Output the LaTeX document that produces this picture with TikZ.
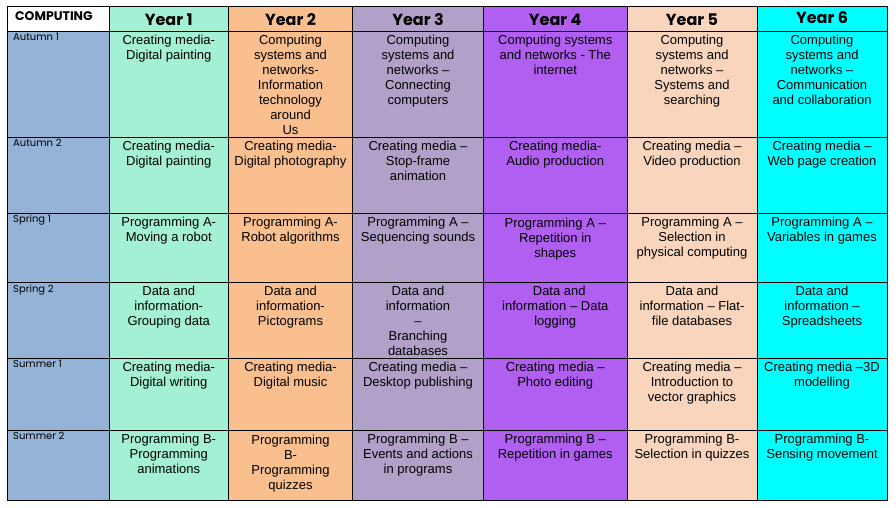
\documentclass[tikz,border=0pt]{standalone}
\usepackage{fontspec}
\setmainfont{Liberation Sans}
\newfontfamily\gothic{Poppins}
\definecolor{cblue}{HTML}{95B3D7}
\definecolor{cyone}{HTML}{A4F0D4}
\definecolor{cytwo}{HTML}{F9BF8F}
\definecolor{cythree}{HTML}{B1A0C7}
\definecolor{cyfour}{HTML}{B05FF0}
\definecolor{cyfive}{HTML}{F8D5BC}
\definecolor{cysix}{HTML}{00FFFF}
\tikzset{
  celltext/.style={anchor=north, align=center, inner sep=0pt, font=\fontsize{13}{15}\selectfont},
  yearhead/.style={anchor=center, inner sep=0pt, font=\gothic\bfseries\fontsize{16}{18}\selectfont},
  termlabel/.style={anchor=north west, inner sep=0pt, font=\gothic\fontsize{10}{12}\selectfont},
  gridline/.style={draw=black, line width=1pt}
}
\begin{document}
\begin{tikzpicture}[x=1pt,y=-1pt]
\useasboundingbox (0,0) rectangle (896,508);
% fills
\fill[white] (7,7) rectangle (109,31.7);
\fill[cblue] (7,31.7) rectangle (109,500);
\fill[cyone] (109,7) rectangle (228.5,500);
\fill[cytwo] (228.5,7) rectangle (352.5,500);
\fill[cythree] (352.5,7) rectangle (483.5,500);
\fill[cyfour] (483.5,7) rectangle (627,500);
\fill[cyfive] (627,7) rectangle (757,500);
\fill[cysix] (757,7) rectangle (887,500);
% grid
\foreach \x in {109,228.5,352.5,483.5,627,757} \draw[gridline] (\x,7) -- (\x,500);
\foreach \y in {31.7,137.3,213.3,282.7,358.3,430} \draw[gridline] (7,\y) -- (887,\y);
\draw[gridline] (7,7) rectangle (887,500);
% headers
\node[anchor=west, inner sep=0pt, font=\gothic\bfseries\fontsize{12.5}{14}\selectfont] (hcomp) at (15,16.5) {COMPUTING};
\node[yearhead] (hy1) at (168.75,19.5) {Year 1};
\node[yearhead] (hy2) at (290.5,19.5) {Year 2};
\node[yearhead] (hy3) at (418,19.5) {Year 3};
\node[yearhead] (hy4) at (555.25,19.5) {Year 4};
\node[yearhead] (hy5) at (692,19.5) {Year 5};
\node[yearhead] (hy6) at (822,17.5) {Year 6};
% term labels
\node[termlabel] (ta1) at (13,33.5) {Autumn 1};
\node[termlabel] (ta2) at (13,139) {Autumn 2};
\node[termlabel] (ts1) at (13,215) {Spring 1};
\node[termlabel] (ts2) at (13,284.5) {Spring 2};
\node[termlabel] (tu1) at (13,360) {Summer 1};
\node[termlabel] (tu2) at (13,432) {Summer 2};
% Autumn 1
\node[celltext] (a1y1) at (168.75,35.2) {Creating media-\\Digital painting};
\node[celltext] (a1y2) at (290.5,35.2) {Computing\\systems and\\networks-\\Information\\technology\\around\\Us};
\node[celltext] (a1y3) at (418,35.2) {Computing\\systems and\\networks –\\Connecting\\computers};
\node[celltext] (a1y4) at (555.25,35.2) {Computing systems\\and networks - The\\internet};
\node[celltext] (a1y5) at (692,35.2) {Computing\\systems and\\networks –\\Systems and\\searching};
\node[celltext] (a1y6) at (822,35.2) {Computing\\systems and\\networks –\\Communication\\and collaboration};
% Autumn 2
\node[celltext] (a2y1) at (168.75,140.8) {Creating media-\\Digital painting};
\node[celltext] (a2y2) at (290.5,140.8) {Creating media-\\Digital photography};
\node[celltext] (a2y3) at (418,140.8) {Creating media –\\Stop-frame\\animation};
\node[celltext] (a2y4) at (555.25,140.8) {Creating media-\\Audio production};
\node[celltext] (a2y5) at (692,140.8) {Creating media –\\Video production};
\node[celltext] (a2y6) at (822,140.8) {Creating media –\\Web page creation};
% Spring 1
\node[celltext] (s1y1) at (168.75,216.8) {Programming A-\\Moving a robot};
\node[celltext] (s1y2) at (290.5,216.8) {Programming A-\\Robot algorithms};
\node[celltext] (s1y3) at (418,216.8) {Programming A –\\Sequencing sounds};
\node[celltext] (s1y4) at (555.25,218.3) {Programming A –\\Repetition in\\shapes};
\node[celltext] (s1y5) at (692,216.8) {Programming A –\\Selection in\\physical computing};
\node[celltext] (s1y6) at (822,216.8) {Programming A –\\Variables in games};
% Spring 2
\node[celltext] (s2y1) at (168.75,286.2) {Data and\\information-\\Grouping data};
\node[celltext] (s2y2) at (290.5,286.2) {Data and\\information-\\Pictograms};
\node[celltext] (s2y3) at (418,286.2) {Data and\\information\\–\\Branching\\databases};
\node[celltext] (s2y4) at (555.25,286.2) {\hspace*{8pt}Data and\\information – Data\\logging};
\node[celltext] (s2y5) at (692,286.2) {Data and\\information – Flat-\\file databases};
\node[celltext] (s2y6) at (822,286.2) {Data and\\information –\\Spreadsheets};
% Summer 1
\node[celltext] (u1y1) at (168.75,361.8) {Creating media-\\Digital writing};
\node[celltext] (u1y2) at (290.5,361.8) {Creating media-\\Digital music};
\node[celltext] (u1y3) at (418,361.8) {Creating media –\\Desktop publishing};
\node[celltext] (u1y4) at (555.25,361.8) {Creating media –\\Photo editing};
\node[celltext] (u1y5) at (692,361.8) {Creating media –\\Introduction to\\vector graphics};
\node[celltext] (u1y6) at (822,361.8) {Creating media –3D\\modelling};
% Summer 2
\node[celltext] (u2y1) at (168.75,433.5) {Programming B-\\Programming\\animations};
\node[celltext] (u2y2) at (290.5,435) {Programming\\B-\\Programming\\quizzes};
\node[celltext] (u2y3) at (418,433.5) {Programming B –\\Events and actions\\in programs};
\node[celltext] (u2y4) at (555.25,433.5) {Programming B –\\Repetition in games};
\node[celltext] (u2y5) at (692,433.5) {Programming B-\\Selection in quizzes};
\node[celltext] (u2y6) at (822,433.5) {Programming B-\\Sensing movement};
\end{tikzpicture}
\end{document}
